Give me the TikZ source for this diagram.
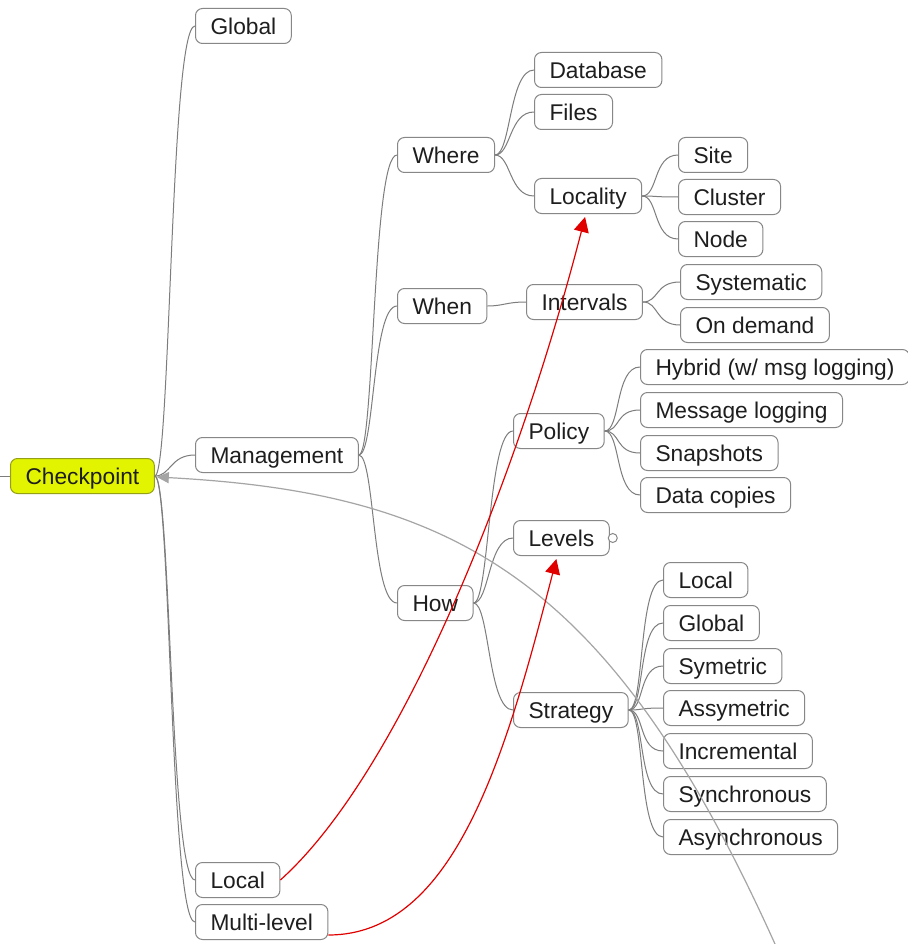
\documentclass[tikz,border=0pt]{standalone}
\usepackage{fontspec}
\setmainfont{Liberation Sans}
\usetikzlibrary{arrows.meta}
\definecolor{boxgray}{RGB}{135,135,135}
\definecolor{brgray}{RGB}{125,125,125}
\definecolor{relgray}{RGB}{165,165,165}
\definecolor{txt}{RGB}{30,30,30}
\definecolor{cpfill}{RGB}{226,244,0}
\definecolor{cpdraw}{RGB}{150,160,20}
\definecolor{redarr}{RGB}{225,0,0}
\begin{document}
\begin{tikzpicture}[x=1pt,y=-1pt,
  box/.style={draw=boxgray, line width=1pt, rounded corners=7pt, fill=white, text=txt,
    font=\fontsize{22.75}{26}\selectfont, inner xsep=15pt, inner ysep=7pt,
    text height=19pt, text depth=2pt, anchor=west},
  br/.style={draw=brgray, line width=1pt},
  redlink/.style={draw=redarr, line width=1.2pt, -{Triangle[length=15pt,width=15pt]}},
  rellink/.style={draw=relgray, line width=1.2pt, -{Triangle[length=12pt,width=11pt]}}]
\fill[white] (0,0) rectangle (907,944);
\useasboundingbox (0,0) rectangle (907,944);

% nodes
\node[box, fill=cpfill, draw=cpdraw] (cp) at (10,476) {Checkpoint};
\node[box] (glob) at (195,26) {Global};
\node[box] (mgmt) at (195,455) {Management};
\node[box] (loc1) at (195,880) {Local};
\node[box] (multi) at (195,922) {Multi-level};

\node[box] (where) at (397,155) {Where};
\node[box] (when) at (397,306) {When};
\node[box] (how) at (397,603) {How};

\node[box] (db) at (534,70) {Database};
\node[box] (files) at (534,112) {Files};
\node[box] (locality) at (534,196) {Locality};
\node[box] (site) at (678,155) {Site};
\node[box] (cluster) at (678,197) {Cluster};
\node[box] (nodeb) at (678,239) {Node};

\node[box] (intervals) at (526,302) {Intervals};
\node[box] (syst) at (680,282) {Systematic};
\node[box] (ondem) at (680,325) {On demand};

\node[box] (policy) at (513,431) {Policy};
\node[box] (levels) at (513,538) {Levels};
\node[box] (strategy) at (513,710) {Strategy};

\node[box] (hybrid) at (640,367) {Hybrid (w/ msg logging)};
\node[box] (msglog) at (640,410) {Message logging};
\node[box] (snap) at (640,453) {Snapshots};
\node[box] (datac) at (640,495) {Data copies};

\node[box] (slocal) at (663,580) {Local};
\node[box] (sglobal) at (663,623) {Global};
\node[box] (ssym) at (663,666) {Symetric};
\node[box] (sasym) at (663,708) {Assymetric};
\node[box] (sincr) at (663,751) {Incremental};
\node[box] (ssync) at (663,794) {Synchronous};
\node[box] (sasync) at (663,837) {Asynchronous};

\node[circle, draw=boxgray, line width=1pt, fill=white, inner sep=0pt, minimum size=9pt] (lvdot) at ([xshift=3pt]levels.east) {};

% branches
\coordinate (stub) at (0,476);
\draw[br] (stub) -- (cp.west);
\foreach \c in {glob,mgmt,loc1,multi}
  \draw[br] (cp.east) .. controls +(16,0) and +(-25,0) .. (\c.west);
\foreach \c in {where,when,how}
  \draw[br] (mgmt.east) .. controls +(16,0) and +(-25,0) .. (\c.west);
\foreach \c in {db,files,locality}
  \draw[br] (where.east) .. controls +(16,0) and +(-25,0) .. (\c.west);
\foreach \c in {site,cluster,nodeb}
  \draw[br] (locality.east) .. controls +(16,0) and +(-25,0) .. (\c.west);
\draw[br] (when.east) .. controls +(16,0) and +(-20,0) .. (intervals.west);
\foreach \c in {syst,ondem}
  \draw[br] (intervals.east) .. controls +(16,0) and +(-25,0) .. (\c.west);
\foreach \c in {policy,levels,strategy}
  \draw[br] (how.east) .. controls +(16,0) and +(-25,0) .. (\c.west);
\foreach \c in {hybrid,msglog,snap,datac}
  \draw[br] (policy.east) .. controls +(16,0) and +(-25,0) .. (\c.west);
\foreach \c in {slocal,sglobal,ssym,sasym,sincr,ssync,sasync}
  \draw[br] (strategy.east) .. controls +(16,0) and +(-25,0) .. (\c.west);

% relationships
\coordinate (relstart) at (775,944);
\draw[rellink] (relstart) .. controls (611,580) and (458,493) .. ([xshift=2pt,yshift=-1pt]cp.east);
\draw[redlink] (loc1.east) .. controls (405,768) and (522,462) .. ([xshift=-3pt,yshift=-3pt]locality.south);
\draw[redlink] ([yshift=-13pt]multi.east) .. controls (455,935) and (506,754) .. ([xshift=-5pt,yshift=-3pt]levels.south);
\end{tikzpicture}
\end{document}
